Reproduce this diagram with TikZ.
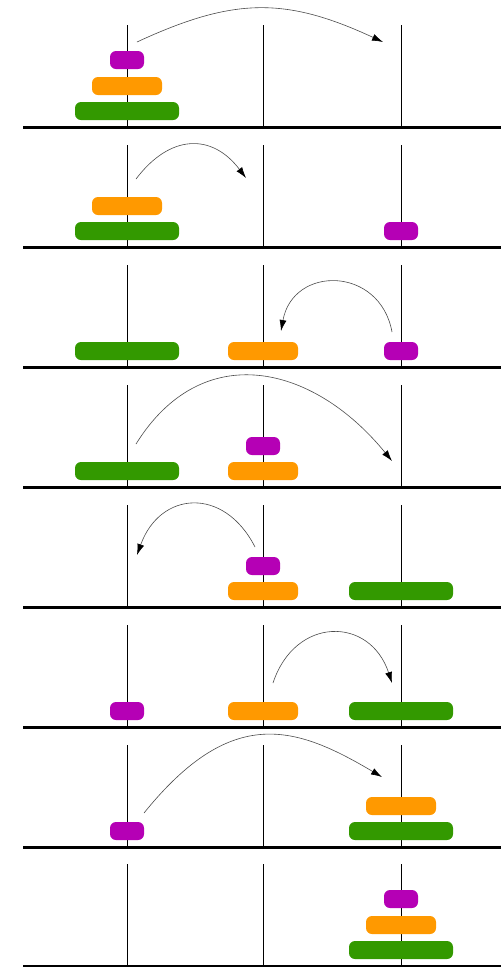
\documentclass[tikz,border=0pt]{standalone}
\usetikzlibrary{arrows.meta}
\definecolor{purp}{HTML}{B500B5}
\definecolor{oran}{HTML}{FF9900}
\definecolor{gren}{HTML}{339900}
\begin{document}
\begin{tikzpicture}[x=1pt,y=-1pt,
  baseline/.style={line width=3pt, black},
  peg/.style={line width=0.9pt, black},
  disk/.style={rectangle, rounded corners=6pt, minimum height=18pt, inner sep=0pt, outer sep=0pt, draw=none},
  smalldisk/.style={disk, fill=purp, minimum width=34pt},
  middisk/.style={disk, fill=oran, minimum width=70pt},
  bigdisk/.style={disk, fill=gren, minimum width=104pt},
  arr/.style={draw=black!70, line width=0.6pt, -{Latex[length=11pt,width=7pt,color=black]}}
]
\useasboundingbox (0,0) rectangle (501,967);
\fill[white] (0,0) rectangle (501,967);

% pegs and base lines
\foreach \k/\B in {1/127,2/247,3/367,4/487,5/607,6/727,7/847,8/966} {
  \foreach \px [count=\j] in {127,263,401} {
    \coordinate (pt\k-\j) at (\px,\B-102);
    \coordinate (pb\k-\j) at (\px,\B);
    \draw[peg] (pt\k-\j) -- (pb\k-\j);
  }
  \coordinate (bl\k) at (23,\B);
  \coordinate (br\k) at (501,\B);
  \draw[baseline] (bl\k) -- (br\k);
}

% panel 1
\node[bigdisk] (g1) at (127,111) {};
\node[middisk] (o1) at (127,86) {};
\node[smalldisk] (p1) at (127,60) {};
% panel 2
\node[bigdisk] (g2) at (127,231) {};
\node[middisk] (o2) at (127,206) {};
\node[smalldisk] (p2) at (401,231) {};
% panel 3
\node[bigdisk] (g3) at (127,351) {};
\node[middisk] (o3) at (263,351) {};
\node[smalldisk] (p3) at (401,351) {};
% panel 4
\node[bigdisk] (g4) at (127,471) {};
\node[middisk] (o4) at (263,471) {};
\node[smalldisk] (p4) at (263,446) {};
% panel 5
\node[middisk] (o5) at (263,591) {};
\node[smalldisk] (p5) at (263,566) {};
\node[bigdisk] (g5) at (401,591) {};
% panel 6
\node[smalldisk] (p6) at (127,711) {};
\node[middisk] (o6) at (263,711) {};
\node[bigdisk] (g6) at (401,711) {};
% panel 7
\node[smalldisk] (p7) at (127,831) {};
\node[bigdisk] (g7) at (401,831) {};
\node[middisk] (o7) at (401,806) {};
% panel 8
\node[bigdisk] (g8) at (401,950) {};
\node[middisk] (o8) at (401,925) {};
\node[smalldisk] (p8) at (401,899) {};

% move arrows
\coordinate (s1) at (137,42);  \coordinate (e1) at (383,42);
\coordinate (s2) at (136,179); \coordinate (e2) at (246,178);
\coordinate (s3) at (392,332); \coordinate (e3) at (281,331);
\coordinate (s4) at (136,444); \coordinate (e4) at (392,461);
\coordinate (s5) at (255,547); \coordinate (e5) at (137,555);
\coordinate (s6) at (273,683); \coordinate (e6) at (392,683);
\coordinate (s7) at (144,813); \coordinate (e7) at (382,777);

\draw[arr] (s1) .. controls +(97,-45) and +(-97,-45) .. (e1);
\draw[arr] (s2) .. controls +(34,-45) and +(-34,-45) .. (e2);
\draw[arr] (s3) .. controls +(-12,-66) and +(12,-66) .. (e3);
\draw[arr] (s4) .. controls +(66,-106) and +(-79,-97) .. (e4);
\draw[arr] (s5) .. controls +(-31,-61) and +(23,-64) .. (e5);
\draw[arr] (s6) .. controls +(22,-67) and +(-22,-67) .. (e6);
\draw[arr] (s7) .. controls +(88,-109) and +(-86,-51) .. (e7);
\end{tikzpicture}
\end{document}
